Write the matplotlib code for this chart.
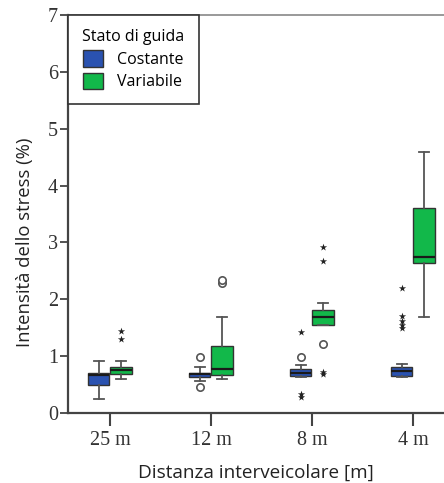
import matplotlib
matplotlib.use("Agg")
import matplotlib.pyplot as plt
from matplotlib.patches import Patch

# categories and box statistics
distanze = ["25 m", "12 m", "8 m", "4 m"]

cost_whislo = [0.25, 0.57, 0.63, 0.64]
cost_q1 = [0.49, 0.64, 0.65, 0.65]
cost_med = [0.67, 0.69, 0.71, 0.73]
cost_q3 = [0.70, 0.71, 0.78, 0.80]
cost_whishi = [0.92, 0.80, 0.84, 0.87]
cost_circles = [[], [0.99, 0.45], [0.98], []]
cost_stars = [[], [], [1.43, 0.33, 0.28], [2.19, 1.70, 1.62, 1.55, 1.50]]

var_whislo = [0.60, 0.60, 1.55, 1.69]
var_q1 = [0.68, 0.67, 1.55, 2.64]
var_med = [0.76, 0.77, 1.68, 2.75]
var_q3 = [0.81, 1.17, 1.81, 3.60]
var_whishi = [0.92, 1.68, 1.93, 4.59]
var_circles = [[], [2.28, 2.34], [1.21], []]
var_stars = [[1.45, 1.30], [], [2.92, 2.68, 0.72, 0.68], []]

col_cost = "#2a52b0"
col_var = "#12b84a"
serif = "Liberation Serif"
sans = "Open Sans"


def make_stats(lo, q1, med, q3, hi):
    return [dict(whislo=a, q1=b, med=c, q3=d, whishi=e)
            for a, b, c, d, e in zip(lo, q1, med, q3, hi)]


def draw_group(ax, stats, pos, color, circles, stars):
    ax.bxp(stats, positions=pos, widths=0.21, showfliers=False,
           patch_artist=True,
           boxprops=dict(facecolor=color, edgecolor="#333333", linewidth=1.0),
           medianprops=dict(color="#1a1a1a", linewidth=1.6),
           whiskerprops=dict(color="#555555", linewidth=1.3),
           capprops=dict(color="#555555", linewidth=1.3),
           capwidths=0.1)
    for p, c_vals, s_vals in zip(pos, circles, stars):
        if c_vals:
            ax.scatter([p] * len(c_vals), c_vals, s=28, facecolors="white",
                       edgecolors="#555555", linewidths=1.2, zorder=3)
        if s_vals:
            ax.scatter([p] * len(s_vals), s_vals, s=30, marker="*",
                       color="#222222", linewidths=0, zorder=3)


fig = plt.figure(figsize=(4.44, 4.83), dpi=100)
ax = fig.add_axes([0.153, 0.145, 0.847, 0.824])

x = list(range(len(distanze)))
pos_cost = [i - 0.11 for i in x]
pos_var = [i + 0.11 for i in x]

draw_group(ax, make_stats(cost_whislo, cost_q1, cost_med, cost_q3, cost_whishi),
           pos_cost, col_cost, cost_circles, cost_stars)
draw_group(ax, make_stats(var_whislo, var_q1, var_med, var_q3, var_whishi),
           pos_var, col_var, var_circles, var_stars)

ax.set_xlim(-0.416, 3.307)
ax.set_ylim(0, 7)
ax.set_xticks(x)
ax.set_xticklabels(distanze, fontfamily=serif, fontsize=14.5, color="#333333")
ax.set_yticks(range(8))
ax.set_yticklabels([str(v) for v in range(8)], fontfamily=serif, fontsize=14.5,
                   color="#333333")
ax.tick_params(axis="x", length=9, width=1.5, color="#444444", pad=4)
ax.tick_params(axis="y", length=6, width=1.3, color="#444444", pad=1)

ax.spines["right"].set_visible(False)
ax.spines["top"].set_color("#888888")
ax.spines["top"].set_linewidth(1.2)
for s in ["left", "bottom"]:
    ax.spines[s].set_color("#444444")
    ax.spines[s].set_linewidth(1.6)

ax.set_xlabel("Distanza interveicolare [m]", fontfamily=sans, fontsize=13.6,
              color="#222222", labelpad=10)
ax.set_ylabel("Intensità dello stress (%)", fontfamily=sans, fontsize=13.3,
              color="#222222")
ax.yaxis.set_label_coords(-0.09, 0.43)

handles = [Patch(facecolor=col_cost, edgecolor="#333333", label="Costante"),
           Patch(facecolor=col_var, edgecolor="#333333", label="Variabile")]
leg = ax.legend(handles=handles, title="Stato di guida", loc="upper left",
                bbox_to_anchor=(0.0, 1.0), fancybox=False, framealpha=1,
                edgecolor="#333333", borderaxespad=0, handlelength=1.2,
                handleheight=1.2, handletextpad=0.9, borderpad=0.9,
                labelspacing=0.3, prop=dict(family=sans, size=11.5))
leg.get_title().set_fontfamily(sans)
leg.get_title().set_fontsize(11.5)
leg.get_frame().set_linewidth(1.2)

fig.savefig("out.png", dpi=100)
